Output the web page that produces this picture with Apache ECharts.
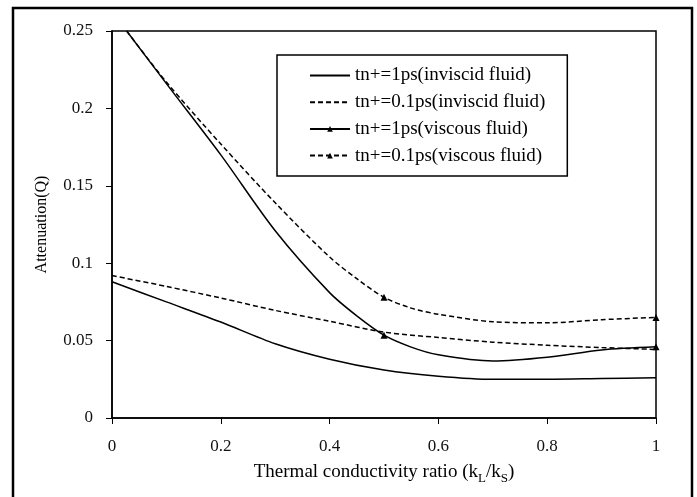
<!DOCTYPE html>
<html>
<head>
<meta charset="utf-8">
<title>Attenuation vs thermal conductivity ratio</title>
<script src="https://cdn.jsdelivr.net/npm/echarts@6/dist/echarts.min.js"></script>
<style>
  html, body { margin: 0; padding: 0; background: #fff; }
  #chart { width: 697px; height: 497px; }
</style>
</head>
<body>
<div id="chart"></div>
<script>
// Thermal conductivity ratio samples
const xInviscid = [0, 0.1, 0.2, 0.3, 0.4, 0.5, 0.6, 0.7, 0.8, 0.9, 1];
const xViscous = [0.027, 0.1, 0.2, 0.3, 0.4, 0.45, 0.5, 0.55, 0.6, 0.7, 0.8, 0.9, 1];

// Attenuation Q for each case
const inviscid1ps = [0.088, 0.075, 0.062, 0.048, 0.038, 0.031, 0.027, 0.025, 0.025, 0.0255, 0.026];
const inviscid01ps = [0.092, 0.085, 0.0775, 0.0695, 0.0625, 0.0555, 0.052, 0.049, 0.047, 0.0455, 0.0443];
const viscous1ps = [0.25, 0.216, 0.170, 0.121, 0.081, 0.066, 0.0535, 0.0458, 0.0408, 0.0368, 0.0392, 0.0440, 0.046];
const viscous01ps = [0.25, 0.217, 0.177, 0.139, 0.104, 0.090, 0.078, 0.0710, 0.0670, 0.0622, 0.0615, 0.0635, 0.065];

// Ratios at which the viscous curves carry a marker
const markedX = [0.5, 1];

const seriesNames = [
  'tn+=1ps(inviscid fluid)',
  'tn+=0.1ps(inviscid fluid)',
  'tn+=1ps(viscous fluid)',
  'tn+=0.1ps(viscous fluid)'
];

const xTickLabels = ['0', '0.2', '0.4', '0.6', '0.8', '1'];
const yTickLabels = ['0', '0.05', '0.1', '0.15', '0.2', '0.25'];

const FONT = '"Liberation Serif", "Times New Roman", serif';

function pairs(xs, ys) {
  return xs.map((x, i) => [x, ys[i]]);
}
function markedPairs(xs, ys) {
  return xs.map((x, i) => ({
    value: [x, ys[i]],
    symbol: markedX.indexOf(x) >= 0 ? 'triangle' : 'none'
  }));
}

const solid = { color: '#000', width: 1.5, type: 'solid' };
const dashed = { color: '#000', width: 1.5, type: [5, 3] };
// plain-line legend entries carry no marker
const noMarker = { color: 'rgba(0,0,0,0)', borderWidth: 0, opacity: 0 };

const curve = { type: 'line', smooth: 0.3 };

const chart = echarts.init(document.getElementById('chart'), null, { renderer: 'canvas' });

chart.setOption({
  backgroundColor: '#fff',
  animation: false,
  graphic: [{
    type: 'rect',
    shape: { x: 13, y: 8, width: 679, height: 500 },
    style: { fill: 'none', stroke: '#000', lineWidth: 2.5 },
    silent: true
  }],
  grid: {
    left: 112, right: 41, top: 31, bottom: 79,
    show: true, borderColor: '#000', borderWidth: 1.5,
    backgroundColor: '#fff'
  },
  legend: {
    orient: 'vertical',
    left: 277, top: 55,
    padding: [11, 22, 11, 32],
    itemGap: 7.7,
    itemWidth: 40,
    itemHeight: 7,
    borderColor: '#000',
    borderWidth: 1.5,
    backgroundColor: '#fff',
    textStyle: { fontFamily: FONT, fontSize: 19, color: '#000' },
    data: [
      { name: seriesNames[0], itemStyle: noMarker },
      { name: seriesNames[1], itemStyle: noMarker },
      { name: seriesNames[2] },
      { name: seriesNames[3] }
    ]
  },
  xAxis: {
    type: 'value', min: 0, max: 1, interval: 0.2,
    name: '{n|Thermal conductivity ratio (k}{s|L}{n|/k}{s|S}{n|)}',
    nameLocation: 'middle', nameGap: 45,
    nameTextStyle: {
      fontFamily: FONT, fontSize: 19, color: '#000',
      rich: {
        n: { fontFamily: FONT, fontSize: 19, color: '#000', lineHeight: 19, verticalAlign: 'top' },
        s: { fontFamily: FONT, fontSize: 13, color: '#000', lineHeight: 13, verticalAlign: 'top', padding: [9, 0, 0, 0] }
      }
    },
    axisLine: { show: true, lineStyle: { color: '#000', width: 1.5 } },
    axisTick: { show: true, inside: false, length: 6, lineStyle: { color: '#000', width: 1 } },
    axisLabel: {
      margin: 20, fontFamily: FONT, fontSize: 17, color: '#111',
      formatter: (v, i) => xTickLabels[i]
    },
    splitLine: { show: false }
  },
  yAxis: {
    type: 'value', min: 0, max: 0.25, interval: 0.05,
    name: 'Attenuation(Q)',
    nameLocation: 'middle', nameGap: 62,
    nameTextStyle: { fontFamily: FONT, fontSize: 16, color: '#000' },
    axisLine: { show: true, lineStyle: { color: '#000', width: 1.5 } },
    axisTick: { show: true, inside: false, length: 6, lineStyle: { color: '#000', width: 1 } },
    axisLabel: {
      margin: 19, fontFamily: FONT, fontSize: 17, color: '#111',
      formatter: (v, i) => yTickLabels[i]
    },
    splitLine: { show: false }
  },
  series: [
    Object.assign({}, curve, {
      name: seriesNames[0], symbol: 'none', lineStyle: solid, itemStyle: { color: '#000' },
      data: pairs(xInviscid, inviscid1ps)
    }),
    Object.assign({}, curve, {
      name: seriesNames[1], symbol: 'none', lineStyle: dashed, itemStyle: { color: '#000' },
      data: pairs(xInviscid, inviscid01ps)
    }),
    Object.assign({}, curve, {
      name: seriesNames[2], symbol: 'triangle', symbolSize: 7, showAllSymbol: true,
      lineStyle: solid, itemStyle: { color: '#000' },
      data: markedPairs(xViscous, viscous1ps)
    }),
    Object.assign({}, curve, {
      name: seriesNames[3], symbol: 'triangle', symbolSize: 7, showAllSymbol: true,
      lineStyle: dashed, itemStyle: { color: '#000' },
      data: markedPairs(xViscous, viscous01ps)
    })
  ]
});
</script>
</body>
</html>
